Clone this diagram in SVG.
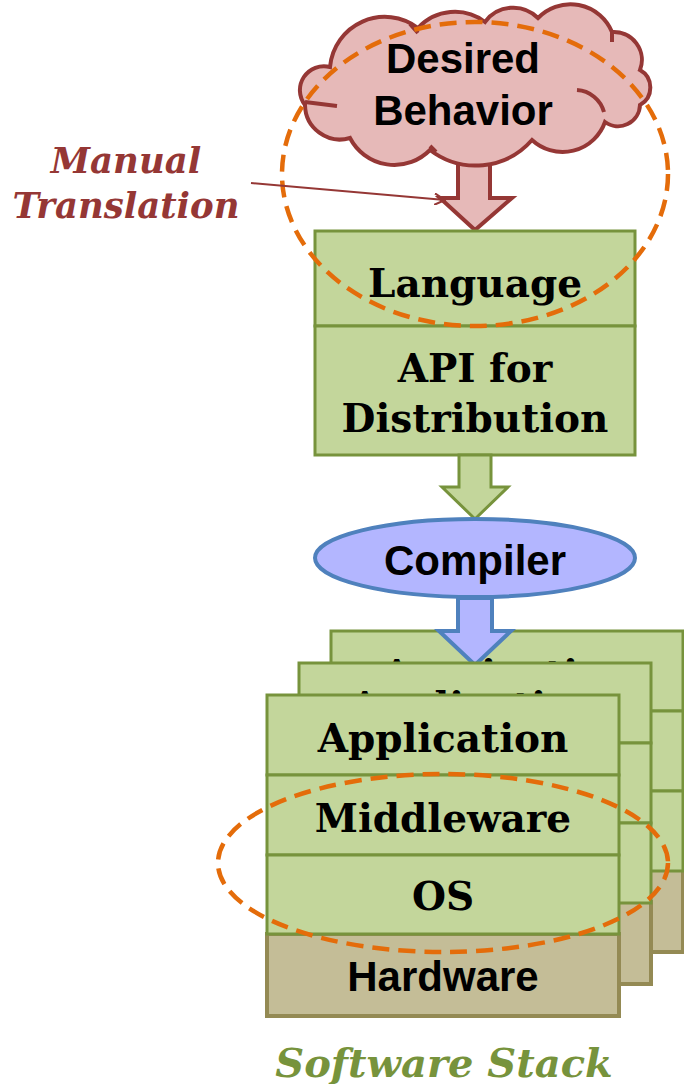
<svg xmlns="http://www.w3.org/2000/svg" width="684" height="1084" viewBox="0 0 684 1084">
<defs>
<style>
.g{fill:#c3d69b;stroke:#77933c;stroke-width:3}
.hw{fill:#c4bd97;stroke:#948a54;stroke-width:4}
.ser{font-family:"DejaVu Serif","Liberation Serif",serif;font-weight:bold;fill:#000;text-anchor:middle;font-size:39px}
.sans{font-family:"Liberation Sans",Arial,sans-serif;font-weight:bold;fill:#000;text-anchor:middle;font-size:42px}
.dash{fill:none;stroke:#e46c0a;stroke-width:4.5;stroke-dasharray:17 9}
.it{font-family:"DejaVu Serif","Liberation Serif",serif;font-weight:bold;font-style:italic;text-anchor:middle}
</style>
<clipPath id="clipBack"><rect x="331" y="631" width="352" height="32"/></clipPath>
<clipPath id="clipMid"><rect x="299" y="663" width="352" height="32"/></clipPath>
<marker id="open" viewBox="0 0 12 12" refX="11" refY="6" markerWidth="12" markerHeight="12" markerUnits="userSpaceOnUse" orient="auto">
<path d="M0,0 L11,6 L0,12" fill="none" stroke="#953735" stroke-width="2"/>
</marker>
</defs>
<rect width="684" height="1084" fill="#fff"/>

<g id="connectors">
<path id="arrow-cloud" d="M458,150 L490,150 L490,198 L512,198 L475,230 L440,198 L458,198 Z" fill="#e6b9b8" stroke="#953735" stroke-width="4" stroke-linejoin="miter"/>
</g>

<g id="desired-behavior">
<path d="M330,67 A55,55 0 0 1 418,28 A50,50 0 0 1 485,22 A35,35 0 0 1 538,18 A45,45 0 0 1 612,32 A28,28 0 0 1 640,70 A20,20 0 0 1 640,105 A22,22 0 0 1 605,122 A45,45 0 0 1 532,140 A75,75 0 0 1 430,150 A50,50 0 0 1 350,138 A35,35 0 0 1 305,105 A24,24 0 0 1 330,67 Z" fill="#e6b9b8" stroke="#953735" stroke-width="4"/>
<path d="M577,90 A30,30 0 0 1 604,112 M305,102 L337,106 M430,146 L436,152 M410,24 L418,33 M612,32 L612,42" fill="none" stroke="#953735" stroke-width="4"/>
<text class="sans" x="463" y="73">Desired</text>
<text class="sans" x="463" y="125">Behavior</text>
</g>

<g id="language-box">
<rect class="g" x="315" y="231" width="320" height="95"/>
<text class="ser" x="475" y="297">Language</text>
</g>
<g id="api-box">
<rect class="g" x="315" y="326" width="320" height="129"/>
<text class="ser" x="475" y="382">API for</text>
<text class="ser" x="475" y="432">Distribution</text>
</g>

<g id="connectors-2">
<path id="arrow-green" d="M459,455 L491,455 L491,487 L508,487 L475,519 L442,487 L459,487 Z" fill="#c3d69b" stroke="#77933c" stroke-width="3"/>
</g>

<g id="compiler">
<ellipse cx="475" cy="558" rx="160" ry="39" fill="#b3b6ff" stroke="#4f81bd" stroke-width="4"/>
<text class="sans" x="475" y="575">Compiler</text>
</g>

<g id="stack-back">
<rect class="hw" x="331" y="870" width="352" height="82"/>
<rect class="g" x="331" y="631" width="352" height="80"/>
<rect class="g" x="331" y="711" width="352" height="80"/>
<rect class="g" x="331" y="791" width="352" height="80"/>
<text class="ser" x="507" y="688" clip-path="url(#clipBack)">Application</text>
</g>

<g id="connectors-3">
<path id="arrow-blue" d="M458,598 L492,598 L492,631 L511,631 L475,665 L439,631 L458,631 Z" fill="#b3b6ff" stroke="#4f81bd" stroke-width="4"/>
</g>

<g id="stack-middle">
<rect class="hw" x="299" y="902" width="352" height="82"/>
<rect class="g" x="299" y="663" width="352" height="80"/>
<rect class="g" x="299" y="743" width="352" height="80"/>
<rect class="g" x="299" y="823" width="352" height="80"/>
<text class="ser" x="475" y="720" clip-path="url(#clipMid)">Application</text>
</g>

<g id="stack-front">
<rect class="hw" x="267" y="934" width="352" height="82"/>
<rect class="g" x="267" y="695" width="352" height="80"/>
<rect class="g" x="267" y="775" width="352" height="80"/>
<rect class="g" x="267" y="855" width="352" height="79"/>
<text class="ser" x="443" y="752">Application</text>
<text class="ser" x="443" y="832">Middleware</text>
<text class="ser" x="443" y="910">OS</text>
<text class="sans" x="443" y="991">Hardware</text>
</g>

<g id="highlights">
<ellipse class="dash" cx="475" cy="174" rx="193" ry="152"/>
<ellipse class="dash" cx="443" cy="863" rx="225" ry="89"/>
</g>

<g id="manual-translation">
<text class="it" x="126" y="173" font-size="35.5" fill="#953735">Manual</text>
<text class="it" x="126" y="218" font-size="35.5" fill="#953735">Translation</text>
<line x1="251" y1="183" x2="445" y2="200" stroke="#953735" stroke-width="2" marker-end="url(#open)"/>
</g>

<g id="software-stack-label">
<text class="it" x="444" y="1077" font-size="40" fill="#77933c">Software Stack</text>
</g>
</svg>
